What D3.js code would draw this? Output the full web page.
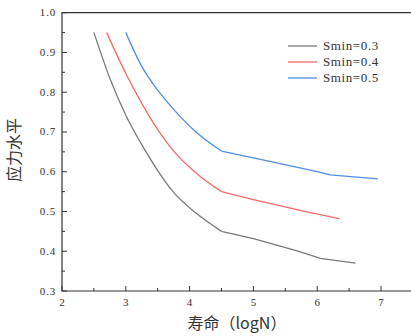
<!DOCTYPE html>
<html>
<head>
<meta charset="utf-8">
<script src="https://cdn.jsdelivr.net/npm/d3@7"></script>
<style>
  body { margin: 0; background: #fff; }
  text { fill: #333; }
</style>
</head>
<body>
<script>
// data
var seriesNames = ["Smin=0.3", "Smin=0.4", "Smin=0.5"];
var seriesColors = ["#7a7a7a", "#f26b6b", "#4f8fe6"];

var smin03 = [[2.5,0.95],[2.75,0.835],[3.0,0.742],[3.25,0.668],[3.5,0.603],[3.75,0.548],[4.1,0.496],[4.5,0.45],[5.0,0.432],[5.7,0.40],[6.05,0.382],[6.6,0.37]];
var smin04 = [[2.7,0.95],[3.0,0.847],[3.25,0.772],[3.5,0.706],[3.75,0.652],[4.1,0.597],[4.5,0.55],[5.0,0.53],[5.8,0.50],[6.35,0.482]];
var smin05 = [[3.0,0.95],[3.25,0.865],[3.5,0.805],[3.8,0.748],[4.1,0.70],[4.5,0.652],[5.0,0.635],[6.0,0.60],[6.2,0.592],[6.95,0.582]];

var xTicks = [2, 3, 4, 5, 6, 7];
var yTicks = [0.3, 0.4, 0.5, 0.6, 0.7, 0.8, 0.9, 1.0];
var kneeX = 4.5;

window.onload = function() {
  var W = 411, H = 336;
  var left = 62, top = 12.7, bottom = 291;

  var x = d3.scaleLinear().domain([2, 7]).range([left, 381]);
  var y = d3.scaleLinear().domain([0.3, 1.0]).range([bottom, top]);

  var svg = d3.select("body").append("svg")
    .attr("width", W).attr("height", H);

  var tickFont = "11px 'Liberation Serif'";

  // minor ticks
  var xMinor = d3.range(2.5, 7.5, 1);
  var yMinor = d3.range(0.35, 1.0, 0.1);

  var gx = svg.append("g").attr("transform", "translate(0," + bottom + ")");
  gx.selectAll(".maj").data(xTicks).enter().append("line")
    .attr("x1", d => x(d)).attr("x2", d => x(d))
    .attr("y1", 0).attr("y2", -5).attr("stroke", "#333");
  gx.selectAll(".min").data(xMinor).enter().append("line")
    .attr("x1", d => x(d)).attr("x2", d => x(d))
    .attr("y1", 0).attr("y2", -3).attr("stroke", "#333");
  gx.selectAll("text").data(xTicks).enter().append("text")
    .attr("x", d => x(d)).attr("y", 15)
    .attr("text-anchor", "middle")
    .style("font", tickFont)
    .text(d => d);

  var gy = svg.append("g").attr("transform", "translate(" + left + ",0)");
  gy.selectAll(".maj").data(yTicks).enter().append("line")
    .attr("y1", d => y(d)).attr("y2", d => y(d))
    .attr("x1", 0).attr("x2", 5).attr("stroke", "#333");
  gy.selectAll(".min").data(yMinor).enter().append("line")
    .attr("y1", d => y(d)).attr("y2", d => y(d))
    .attr("x1", 0).attr("x2", 3).attr("stroke", "#333");
  gy.selectAll("text").data(yTicks).enter().append("text")
    .attr("x", -6).attr("y", d => y(d) + 3.5)
    .attr("text-anchor", "end")
    .style("font", tickFont)
    .style("letter-spacing", "0.8px")
    .text(d => d.toFixed(1));

  // frame
  svg.append("path")
    .attr("d", "M" + (W + 2) + "," + top + "H" + left + "V" + bottom + "H" + (W + 2))
    .attr("fill", "none").attr("stroke", "#333").attr("stroke-width", 1.2);

  // lines: smooth part up to the knee, straight segments after it
  var smooth = d3.line().curve(d3.curveMonotoneX).x(d => x(d[0])).y(d => y(d[1]));
  var straight = d3.line().x(d => x(d[0])).y(d => y(d[1]));
  var allSeries = [smin03, smin04, smin05];
  allSeries.forEach(function(s, i) {
    svg.append("path")
      .attr("d", smooth(s.filter(d => d[0] <= kneeX)))
      .attr("fill", "none").attr("stroke", seriesColors[i]).attr("stroke-width", 1.3);
    svg.append("path")
      .attr("d", straight(s.filter(d => d[0] >= kneeX)))
      .attr("fill", "none").attr("stroke", seriesColors[i]).attr("stroke-width", 1.3);
  });

  // legend
  var lg = svg.append("g");
  seriesNames.forEach(function(name, i) {
    var ly = 46 + i * 16;
    lg.append("line").attr("x1", 288).attr("x2", 317)
      .attr("y1", ly).attr("y2", ly)
      .attr("stroke", seriesColors[i]).attr("stroke-width", 1.3);
    lg.append("text").attr("x", 323).attr("y", ly + 4)
      .style("font", "13px 'Liberation Serif'")
      .style("letter-spacing", "0.6px")
      .text(name);
  });

  // axis titles
  svg.append("text")
    .attr("transform", "translate(20,150) rotate(-90)")
    .attr("text-anchor", "middle")
    .style("font", "16px 'Noto Sans CJK SC'")
    .text("应力水平");
  svg.append("text")
    .attr("x", 237).attr("y", 329)
    .attr("text-anchor", "middle")
    .style("font", "16px 'Noto Sans CJK SC'")
    .text("寿命（logN）");
};
</script>
</body>
</html>
